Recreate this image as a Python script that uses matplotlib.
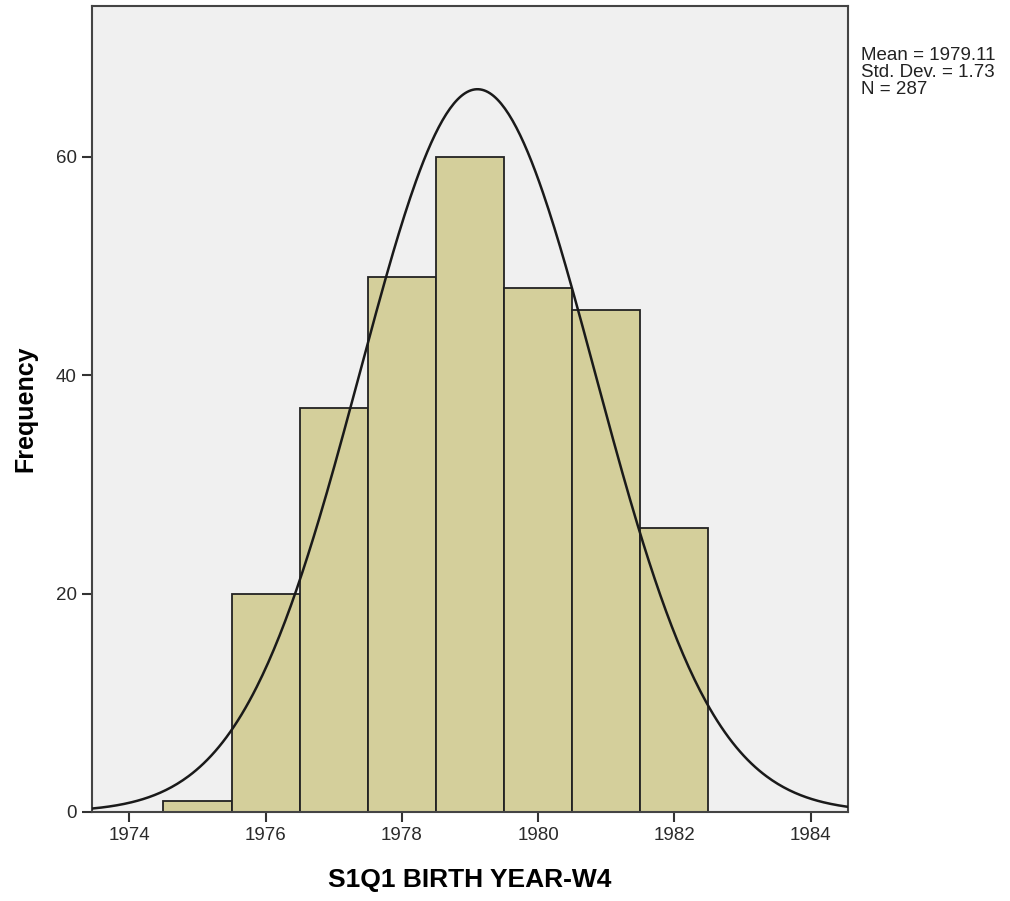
import numpy as np
import matplotlib.pyplot as plt

# birth year histogram (SPSS style)
years = [1975, 1976, 1977, 1978, 1979, 1980, 1981, 1982]
counts = [1, 20, 37, 49, 60, 48, 46, 26]
mean_val = 1979.11
std_val = 1.73
n_val = 287
xticks = [1974, 1976, 1978, 1980, 1982, 1984]
yticks = [0, 20, 40, 60]

plt.rcParams['font.family'] = ['Liberation Sans', 'DejaVu Sans']

fig = plt.figure(figsize=(10.10, 9.01), dpi=100)
ax = fig.add_axes([0.091, 0.0988, 0.7486, 0.8945])
ax.set_facecolor('#f0f0f0')

ax.bar(years, counts, width=1.0, color='#d4cf9b', edgecolor='#222222', linewidth=1.3, zorder=2)

xs = np.linspace(1973.45, 1984.55, 400)
ys = n_val * 1.0 / (std_val * np.sqrt(2 * np.pi)) * np.exp(-0.5 * ((xs - mean_val) / std_val) ** 2)
ax.plot(xs, ys, color='#1a1a1a', linewidth=1.8, zorder=3)

ax.set_xlim(1973.45, 1984.55)
ax.set_ylim(0, 73.8)
ax.set_xticks(xticks)
ax.set_yticks(yticks)
ax.tick_params(direction='out', length=7, width=1.5, color='#333333', labelsize=13.5,
               labelcolor='#2a2a2a', pad=4)
for s in ax.spines.values():
    s.set_color('#444444')
    s.set_linewidth(1.5)

ax.set_xlabel('S1Q1 BIRTH YEAR-W4', fontsize=19, fontweight='bold', labelpad=17)
ax.set_ylabel('Frequency', fontsize=18, fontweight='bold', labelpad=13)

fig.text(0.852, 0.948, 'Mean = %.2f\nStd. Dev. = %.2f\nN = %d' % (mean_val, std_val, n_val),
         fontsize=13.5, va='top', ha='left', linespacing=1.0, color='#222222')

fig.savefig('out.png', dpi=100)
